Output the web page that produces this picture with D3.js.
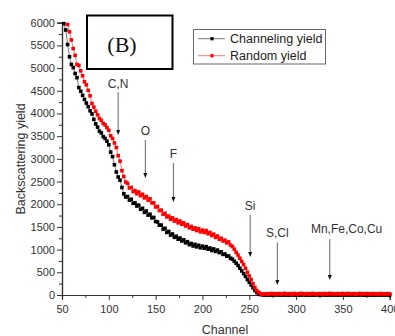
<!DOCTYPE html>
<html>
<head>
<meta charset="utf-8">
<script src="https://cdn.jsdelivr.net/npm/d3@7"></script>
<style>
  html, body { margin: 0; padding: 0; background: #fff; }
  svg { display: block; }
</style>
</head>
<body>
<svg id="chart" width="395" height="336"></svg>
<script>
// RBS spectra: channeling vs random backscattering yield (every 2nd channel)
const channelingStart = 52;
const channelingYield = [
  5980, 5840, 5520, 5250, 5080, 5010,
  4880, 4790, 4570, 4490, 4400, 4310,
  4230, 4150, 4060, 3990, 3870, 3770,
  3700, 3610, 3570, 3490, 3450, 3390,
  3310, 3150, 3050, 2870, 2710, 2600,
  2530, 2370, 2230, 2160, 2170, 2090,
  2110, 2020, 2030, 1960, 1980, 1890,
  1910, 1820, 1850, 1760, 1780, 1700,
  1710, 1620, 1610, 1540, 1540, 1450,
  1470, 1380, 1400, 1320, 1345, 1270,
  1295, 1230, 1255, 1190, 1215, 1150,
  1175, 1110, 1135, 1080, 1115, 1060,
  1095, 1040, 1075, 1030, 1065, 1010,
  1035, 980, 1015, 960, 990, 935,
  950, 895, 905, 855, 860, 810,
  790, 745, 700, 650, 590, 530,
  470, 410, 340, 280, 220, 160,
  100, 55, 25, 10,
  5, 3, 0, 4, 2, 0, 6, 3, 1, 5, 0, 2,
  4, 1, 0, 3, 6, 2, 0, 4, 1, 3, 5, 0,
  2, 4, 1, 0, 3, 5, 2, 0, 4, 1, 3, 0,
  2, 5, 1, 3, 0, 4, 2, 1, 3, 0, 5, 2,
  1, 4, 0, 3, 2, 5, 1, 0, 3, 2, 4, 1,
  0, 3, 2, 1, 4, 0, 2, 3, 1
];

const randomStart = 56;
const randomYield = [
  5960, 5800, 5620, 5430, 5280, 5080,
  5060, 4940, 4830, 4700, 4630, 4510,
  4390, 4220, 4140, 4050, 3970, 3890,
  3850, 3780, 3750, 3690, 3630, 3510,
  3450, 3350, 3250, 3070, 2950, 2740,
  2610, 2490, 2460, 2360, 2370, 2280,
  2300, 2230, 2270, 2190, 2220, 2140,
  2170, 2090, 2120, 2030, 2030, 1940,
  1950, 1860, 1870, 1780, 1800, 1720,
  1740, 1670, 1700, 1630, 1660, 1590,
  1630, 1560, 1590, 1520, 1550, 1480,
  1510, 1450, 1480, 1420, 1460, 1390,
  1430, 1380, 1420, 1350, 1380, 1310,
  1340, 1270, 1300, 1230, 1250, 1190,
  1210, 1150, 1170, 1100, 1070, 1010,
  940, 880, 810, 740, 670, 590,
  500, 420, 340, 250, 170, 100,
  60, 30, 18,
  22, 30, 18, 26, 35, 20, 28, 24, 32, 19, 27, 36,
  21, 25, 30, 18, 33, 24, 20, 29, 35, 22, 26, 31,
  19, 28, 34, 23, 20, 30, 27, 18, 32, 25, 21, 36,
  24, 29, 19, 31, 26, 22, 34, 20, 28, 33, 23, 27,
  30, 18, 25, 35, 21, 29, 24, 32, 20, 26, 31, 22,
  28, 19, 33, 25, 27, 21, 30, 24
];

const xTicks = [50, 100, 150, 200, 250, 300, 350, 400];
const yTicks = [0, 500, 1000, 1500, 2000, 2500, 3000, 3500, 4000, 4500, 5000, 5500, 6000];

// element edge markers: label, channel, label baseline (yield), arrow top, arrow tip
const edgeLabels = ["C,N", "O", "F", "Si", "S,Cl", "Mn,Fe,Co,Cu"];
const edgeChannels = [110, 139, 169, 251, 280, 336];
const edgeLabelY = [4560, 3525, 3018, 1872, 1285, 1366];
const edgeLabelX = [110, 139, 169, 251, 280, 354];
const edgeArrowTop = [4470, 3415, 2908, 1762, 1160, 1230];
const edgeArrowTip = [3525, 2577, 2049, 837, 220, 330];

const seriesNames = ["Channeling yield", "Random yield"];
const seriesColors = ["#000000", "#ff0000"];
const seriesLineColors = ["#555555", "#ff5555"];

const svg = d3.select("#chart");

const x = d3.scaleLinear().domain([50, 400]).range([62, 389.7]);
const y = d3.scaleLinear().domain([0, 6000]).range([295, 22.7]);

const font = "'Liberation Sans', Arial, sans-serif";

// axes
const xAxis = d3.axisBottom(x).tickValues(xTicks).tickSize(5).tickFormat(d3.format("d"));
const xMinor = d3.axisBottom(x).tickValues(d3.range(75, 400, 50)).tickSize(3).tickFormat("");
const yAxis = d3.axisLeft(y).tickValues(yTicks).tickSize(5).tickFormat(d3.format("d"));
const yMinor = d3.axisLeft(y).tickValues(d3.range(250, 6000, 500)).tickSize(3).tickFormat("");

function styleAxis(g) {
  g.select(".domain").attr("stroke", "#333").attr("stroke-width", 1.2);
  g.selectAll(".tick line").attr("stroke", "#333").attr("stroke-width", 1);
  g.selectAll(".tick text").attr("fill", "#333").attr("font-family", font).attr("font-size", 11);
}

svg.append("g").attr("transform", "translate(0,295)").call(xMinor).call(styleAxis);
svg.append("g").attr("transform", "translate(0,295)").call(xAxis).call(styleAxis)
  .selectAll(".tick text").attr("dy", "0.95em");
svg.append("g").attr("transform", "translate(62,0)").call(yMinor).call(styleAxis);
svg.append("g").attr("transform", "translate(62,0)").call(yAxis).call(styleAxis)
  .selectAll(".tick text").attr("x", -7);

// axis titles
svg.append("text")
  .attr("x", 225).attr("y", 333.5)
  .attr("text-anchor", "middle")
  .attr("font-family", font).attr("font-size", 12.5).attr("fill", "#333")
  .text("Channel");
svg.append("text")
  .attr("transform", "translate(25,159) rotate(-90)")
  .attr("text-anchor", "middle")
  .attr("font-family", font).attr("font-size", 12.5).attr("fill", "#333")
  .text("Backscattering yield");

// series
const series = [
  channelingYield.map((v, i) => ({ ch: channelingStart + 2 * i, v })),
  randomYield.map((v, i) => ({ ch: randomStart + 2 * i, v }))
];
const line = d3.line().x(d => x(d.ch)).y(d => y(d.v));

series.forEach((pts, k) => {
  const g = svg.append("g");
  g.append("path").datum(pts)
    .attr("d", line)
    .attr("fill", "none")
    .attr("stroke", seriesLineColors[k])
    .attr("stroke-width", 0.8);
  g.selectAll("rect").data(pts).join("rect")
    .attr("x", d => x(d.ch) - 1.8)
    .attr("y", d => y(d.v) - 1.8)
    .attr("width", 3.6).attr("height", 3.6)
    .attr("fill", seriesColors[k]);
});

// edge arrows and labels
const arrowG = svg.append("g");
edgeLabels.forEach((lab, i) => {
  const cx = x(edgeChannels[i]);
  const top = y(edgeArrowTop[i]);
  const tip = y(edgeArrowTip[i]);
  arrowG.append("line")
    .attr("x1", cx).attr("x2", cx)
    .attr("y1", top).attr("y2", tip - 4)
    .attr("stroke", "#666").attr("stroke-width", 1);
  arrowG.append("path")
    .attr("d", `M${cx - 2},${tip - 5} L${cx + 2},${tip - 5} L${cx},${tip} Z`)
    .attr("fill", "#111");
  arrowG.append("text")
    .attr("x", x(edgeLabelX[i])).attr("y", y(edgeLabelY[i]))
    .attr("text-anchor", "middle")
    .attr("font-family", font).attr("font-size", 12).attr("fill", "#333")
    .text(lab);
});

// panel label
svg.append("rect")
  .attr("x", 87).attr("y", 15.5).attr("width", 85.5).attr("height", 53.5)
  .attr("fill", "#fff").attr("stroke", "#000").attr("stroke-width", 2);
svg.append("text")
  .attr("x", 122).attr("y", 52)
  .attr("text-anchor", "middle")
  .attr("font-family", "'Liberation Serif', 'Times New Roman', serif")
  .attr("font-size", 22).attr("fill", "#111")
  .text("(B)");

// legend
const leg = svg.append("g");
leg.append("rect")
  .attr("x", 193.5).attr("y", 29.5).attr("width", 132).attr("height", 34.5)
  .attr("fill", "#fff").attr("stroke", "#666").attr("stroke-width", 1);
seriesNames.forEach((name, k) => {
  const ly = 38.7 + k * 17;
  leg.append("line")
    .attr("x1", 198).attr("x2", 225).attr("y1", ly).attr("y2", ly)
    .attr("stroke", seriesLineColors[k]).attr("stroke-width", 0.8);
  leg.append("rect")
    .attr("x", 210.4).attr("y", ly - 1.6).attr("width", 3.2).attr("height", 3.2)
    .attr("fill", seriesColors[k]);
  leg.append("text")
    .attr("x", 230).attr("y", ly + 4.3)
    .attr("font-family", font).attr("font-size", 12.5).attr("fill", "#222")
    .text(name);
});
</script>
</body>
</html>
